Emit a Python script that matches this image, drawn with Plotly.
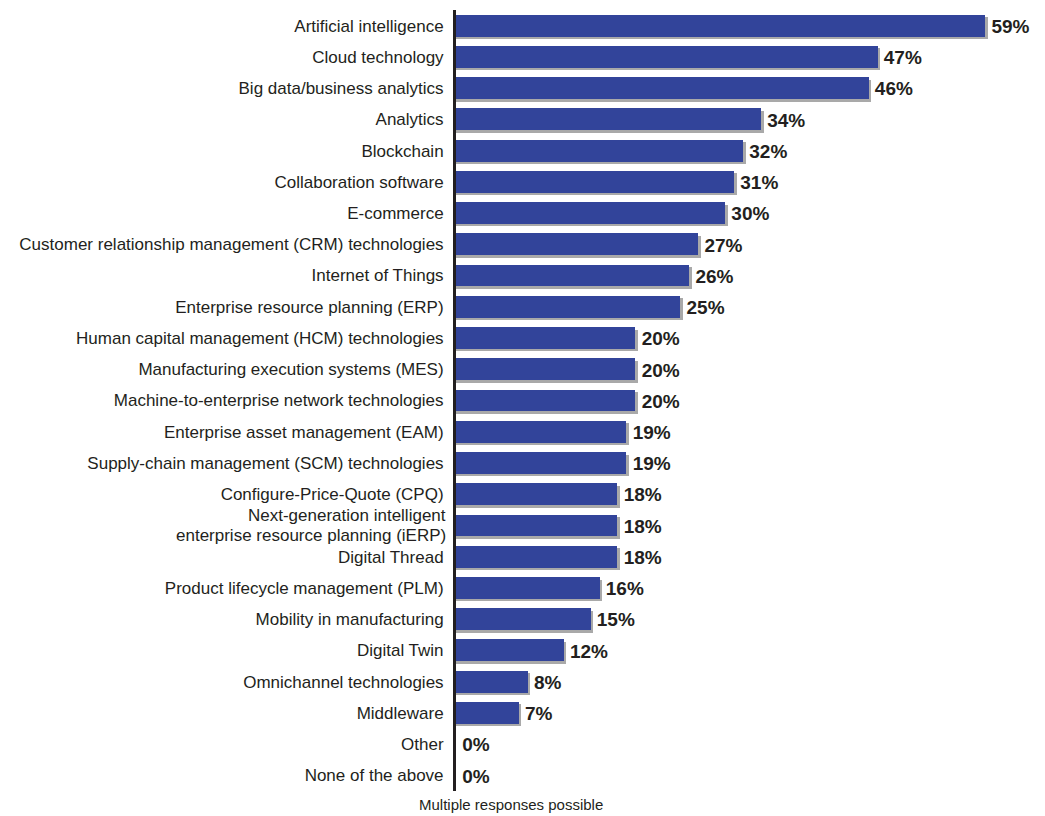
import plotly.graph_objects as go

categories = [
    "Artificial intelligence",
    "Cloud technology",
    "Big data/business analytics",
    "Analytics",
    "Blockchain",
    "Collaboration software",
    "E-commerce",
    "Customer relationship management (CRM) technologies",
    "Internet of Things",
    "Enterprise resource planning (ERP)",
    "Human capital management (HCM) technologies",
    "Manufacturing execution systems (MES)",
    "Machine-to-enterprise network technologies",
    "Enterprise asset management (EAM)",
    "Supply-chain management (SCM) technologies",
    "Configure-Price-Quote (CPQ)",
    "Next-generation intelligent<br>enterprise resource planning (iERP)",
    "Digital Thread",
    "Product lifecycle management (PLM)",
    "Mobility in manufacturing",
    "Digital Twin",
    "Omnichannel technologies",
    "Middleware",
    "Other",
    "None of the above",
]
values = [59, 47, 46, 34, 32, 31, 30, 27, 26, 25, 20, 20, 20, 19, 19, 18, 18, 18, 16, 15, 12, 8, 7, 0, 0]
labels = [f"{v}%" for v in values]
note = "Multiple responses possible"

idx = list(range(len(categories)))
BAR = "#32449a"
SHADOW = "#a9a9a9"
TXT = "#231f20"
LABFONT = "Liberation Sans, Arial, sans-serif"
LABSIZE = 17

fig = go.Figure()
# shadow bars (offset slightly right and down)
fig.add_trace(go.Bar(
    x=[v + 0.3 if v > 0 else 0 for v in values],
    y=[i + 0.08 for i in idx],
    orientation="h", width=0.7,
    marker=dict(color=SHADOW, line=dict(width=0)),
    hoverinfo="skip", showlegend=False,
))
fig.add_trace(go.Bar(
    x=values, y=idx, orientation="h", width=0.7,
    marker=dict(color=BAR, line=dict(width=0)),
    showlegend=False,
))
fig.add_trace(go.Scatter(
    x=[v + 0.7 for v in values], y=[i + 0.08 for i in idx], mode="text",
    text=labels, textposition="middle right",
    textfont=dict(family="Liberation Sans, Arial, sans-serif", size=19, color=TXT, weight="bold"),
    showlegend=False, hoverinfo="skip", cliponaxis=False,
))

# tick labels: single-line ones via ticktext, multi-line one via annotations
ticktext = ["" if "<br>" in c else c for c in categories]
annotations = []
for i, c in enumerate(categories):
    if "<br>" in c:
        parts = c.split("<br>")
        n = len(parts)
        for k, p in enumerate(parts):
            annotations.append(dict(
                text=p, x=0, xref="paper", xshift=-8, y=i + (k - (n - 1) / 2) * 0.66, yref="y",
                xanchor="right", yanchor="middle", showarrow=False,
                font=dict(family=LABFONT, size=LABSIZE, color=TXT),
            ))

annotations.append(dict(
    text=note, x=(511 - 456) / (1045 - 456 - 15), y=-0.004, xref="paper", yref="paper",
    xanchor="center", yanchor="top", showarrow=False,
    font=dict(family=LABFONT, size=15, color=TXT),
))

fig.update_layout(
    width=1045, height=816,
    margin=dict(l=456, r=15, t=10, b=25),
    paper_bgcolor="white", plot_bgcolor="white",
    barmode="overlay", bargap=0,
    xaxis=dict(range=[0, 64], visible=False, fixedrange=True),
    yaxis=dict(
        range=[24.5, -0.5], tickmode="array", tickvals=idx, ticktext=ticktext,
        showline=True, linecolor=TXT, linewidth=3, showgrid=False, zeroline=False,
        ticks="", ticklabelstandoff=6, automargin=False,
        tickfont=dict(family=LABFONT, size=LABSIZE, color=TXT),
    ),
    annotations=annotations,
)

fig.write_html("out.html")
